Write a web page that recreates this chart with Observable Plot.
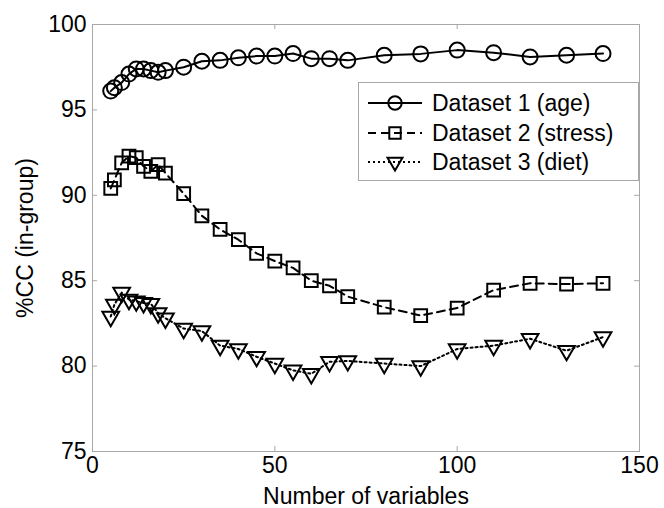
<!DOCTYPE html>
<html><head><meta charset="utf-8">
<script src="https://cdn.jsdelivr.net/npm/d3@7"></script>
<script src="https://cdn.jsdelivr.net/npm/@observablehq/plot@0.6"></script>
<style>
body{margin:0;background:#fff;}
#wrap{position:relative;width:664px;height:508px;font-family:"Liberation Sans",Arial,sans-serif;}
#legend{position:absolute;left:358px;top:82px;}
</style>
</head><body><div id="wrap"></div>
<script>
const xValues = [5,6,8,10,12,14,16,18,20,25,30,35,40,45,50,55,60,65,70,80,90,100,110,120,130,140];
const ageValues = [96.1,96.3,96.6,97.1,97.4,97.4,97.3,97.2,97.3,97.5,97.85,97.9,98.05,98.15,98.15,98.3,98.0,98.0,97.9,98.2,98.28,98.5,98.35,98.1,98.2,98.3];
const stressValues = [90.4,90.9,91.9,92.3,92.2,91.7,91.4,91.8,91.3,90.1,88.8,88.0,87.4,86.6,86.15,85.75,85.0,84.7,84.07,83.45,82.96,83.4,84.45,84.85,84.8,84.85];
const dietValues = [82.9,83.6,84.3,83.9,83.8,83.7,83.65,83.1,82.8,82.2,82.05,81.2,81.0,80.55,80.15,79.75,79.55,80.25,80.3,80.15,80.0,81.0,81.2,81.6,80.9,81.7];
const xTicks = [0,50,100,150];
const yTicks = [75,80,85,90,95,100];
const seriesNames = ["Dataset 1 (age)","Dataset 2 (stress)","Dataset 3 (diet)"];
const xLabel = "Number of variables";
const yLabel = "%CC (in-group)";

const W = 664, H = 508, mL = 92, mR = 25, mT = 24, mB = 57;
const plotW = W - mL - mR, plotH = H - mT - mB;
const font = "Liberation Sans, Arial, sans-serif";
const gridGray = "#a8a8a8";

const styles = [
  {symbol: "circle", r: 7.5, dash: null, rotate: 0},
  {symbol: "square", r: 7.2, dash: "8,5", rotate: 0},
  {symbol: "triangle", r: 6.2, dash: "2,3", rotate: 180}
];
const seriesData = [ageValues, stressValues, dietValues].map(vals => xValues.map((x, i) => ({x, y: vals[i]})));

const marks = [
  Plot.frame({stroke: gridGray, strokeWidth: 1}),
  Plot.ruleX(xTicks, {x: d => d, insetTop: plotH - 5, stroke: gridGray}),
  Plot.ruleX(xTicks, {x: d => d, insetBottom: plotH - 5, stroke: gridGray}),
  Plot.ruleY(yTicks, {y: d => d, insetRight: plotW - 5, stroke: gridGray}),
  Plot.ruleY(yTicks, {y: d => d, insetLeft: plotW - 5, stroke: gridGray}),
  Plot.axisX({ticks: xTicks, tickSize: 0, tickPadding: 5, fontSize: 23, tickFormat: d => String(d),
    label: xLabel, labelAnchor: "center", labelArrow: "none", labelOffset: 52, fill: "#000"}),
  Plot.axisY({ticks: yTicks, tickSize: 0, tickPadding: 6, fontSize: 23, tickFormat: d => String(d),
    label: yLabel, labelAnchor: "center", labelArrow: "none", labelOffset: 76, fill: "#000"})
];
seriesData.forEach((data, k) => {
  const s = styles[k];
  marks.push(Plot.line(data, {x: "x", y: "y", stroke: "#000", strokeWidth: 2, strokeDasharray: s.dash}));
  marks.push(Plot.dot(data, {x: "x", y: "y", symbol: s.symbol, r: s.r, rotate: s.rotate, fill: "none", stroke: "#000", strokeWidth: 2}));
});

const chart = Plot.plot({
  width: W, height: H,
  marginLeft: mL, marginRight: mR, marginTop: mT, marginBottom: mB,
  x: {domain: [0, 150]},
  y: {domain: [75, 100]},
  style: {fontFamily: font, fontSize: "23px", color: "#000", background: "#fff"},
  marks
});
const wrap = document.getElementById("wrap");
wrap.appendChild(chart);

// Legend overlay
const lw = 281, lh = 99;
const leg = d3.select(wrap).append("svg").attr("id", "legend").attr("width", lw).attr("height", lh);
leg.append("rect").attr("x", 0.5).attr("y", 0.5).attr("width", lw - 1).attr("height", lh - 1)
  .attr("fill", "#fff").attr("stroke", gridGray);
const rowY = [21, 51, 80];
seriesNames.forEach((name, k) => {
  const s = styles[k];
  const g = leg.append("g").attr("transform", `translate(0,${rowY[k]})`);
  g.append("line").attr("x1", 10).attr("x2", 64).attr("y1", 0).attr("y2", 0)
    .attr("stroke", "#000").attr("stroke-width", 2).attr("stroke-dasharray", s.dash);
  const sym = {circle: d3.symbolCircle, square: d3.symbolSquare, triangle: d3.symbolTriangle}[s.symbol];
  g.append("path").attr("d", d3.symbol(sym, Math.PI * s.r * s.r * 0.8)())
    .attr("transform", `translate(37,0) rotate(${s.rotate})`)
    .attr("fill", "none").attr("stroke", "#000").attr("stroke-width", 2);
  g.append("text").attr("x", 74).attr("y", 0).attr("dy", "0.35em")
    .attr("font-family", font).attr("font-size", 23).attr("fill", "#000").text(name);
});
</script>
</body></html>
